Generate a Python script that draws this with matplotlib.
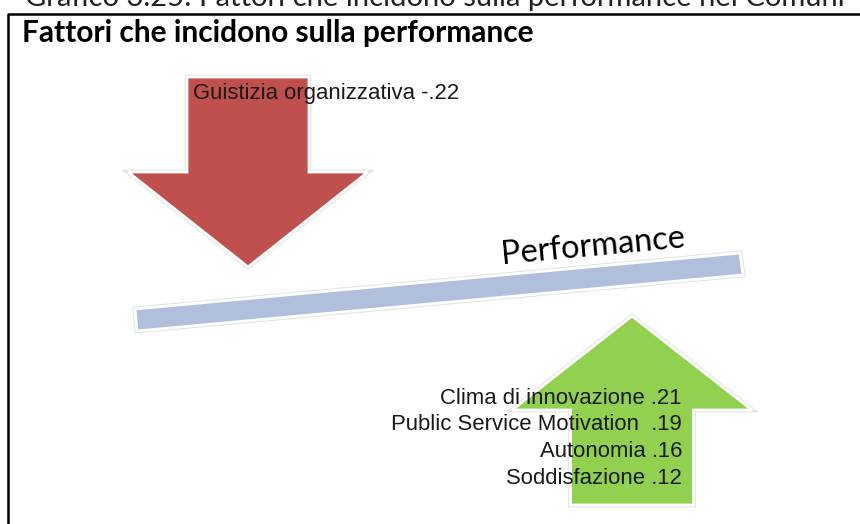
import matplotlib.pyplot as plt
from matplotlib.patches import Polygon


caption = "Grafico 3.25: Fattori che incidono sulla performance nei Comuni"
title = "Fattori che incidono sulla performance"
outcome = "Performance"

neg_factors = ["Guistizia organizzativa"]
neg_coef = [-0.22]

pos_factors = ["Clima di innovazione", "Public Service Motivation ", "Autonomia", "Soddisfazione"]
pos_coef = [0.21, 0.19, 0.16, 0.12]

RED = "#C0504D"
GREEN = "#92D050"
BLUE = "#AFBFDC"
W, H = 860, 524


def fmt_coef(v):
    # stile ".21" / "-.22" senza zero iniziale
    return f"{v:.2f}".replace("0.", ".")


def arrow_points(cx, y_base, y_wings, y_tip, shaft_w, head_w):
    return [
        (cx - shaft_w / 2, y_base),
        (cx + shaft_w / 2, y_base),
        (cx + shaft_w / 2, y_wings),
        (cx + head_w / 2, y_wings),
        (cx, y_tip),
        (cx - head_w / 2, y_wings),
        (cx - shaft_w / 2, y_wings),
    ]


def add_shape(ax, pts, color):
    ax.add_patch(Polygon(pts, closed=True, facecolor=color, edgecolor="#e4e4e4",
                         lw=3.5, joinstyle="miter", zorder=2))
    ax.add_patch(Polygon(pts, closed=True, facecolor=color, edgecolor="white",
                         lw=2.0, joinstyle="miter", zorder=3))


fig = plt.figure(figsize=(W / 100, H / 100), dpi=100)
ax = fig.add_axes([0, 0, 1, 1])
ax.set_xlim(0, W)
ax.set_ylim(H, 0)
ax.axis("off")

# didascalia tagliata in alto e cornice
ax.text(25, 6, caption, fontsize=21, family="Lato", color="#222222",
        ha="left", va="baseline", zorder=5)
ax.plot([8, 8, W + 10], [H + 10, 14, 14], color="black", lw=1.8, zorder=5)

ax.text(22, 42, title, fontsize=21.5, family="Lato", fontweight="bold",
        color="black", ha="left", va="baseline", zorder=5)

# freccia rossa (effetto negativo)
add_shape(ax, arrow_points(248, 77, 172, 267, 122, 240), RED)

# barra della performance
add_shape(ax, [(135, 309), (740, 253), (743, 275), (137, 331)], BLUE)
ax.text(593, 247, outcome, fontsize=23.5, family="Lato", color="black",
        rotation=5.3, rotation_mode="anchor", ha="center", va="center", zorder=5)

# freccia verde (effetti positivi)
add_shape(ax, arrow_points(632, 505, 410, 316, 123, 240), GREEN)

for name, v in zip(neg_factors, neg_coef):
    ax.text(193, 93, f"{name} {fmt_coef(v)}", fontsize=15.9,
            family="Liberation Sans", color="#1a1a1a", ha="left", va="center", zorder=6)

for i, (name, v) in enumerate(zip(pos_factors, pos_coef)):
    ax.text(682, 398 + i * 26.7, f"{name} {fmt_coef(v)}", fontsize=15.9,
            family="Liberation Sans", color="#1a1a1a", ha="right", va="center", zorder=6)

fig.savefig("out.png", dpi=100)
